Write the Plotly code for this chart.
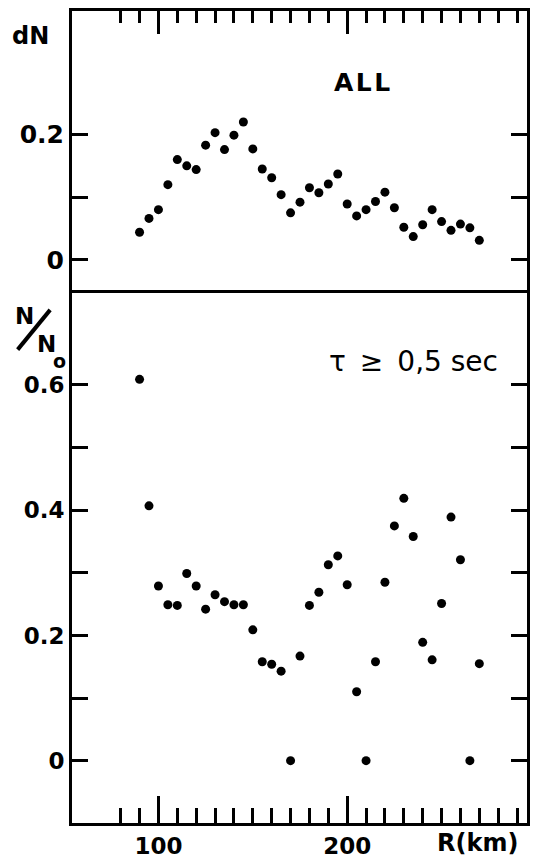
import plotly.graph_objects as go

# ---------------- data ----------------
R_km = [90, 95, 100, 105, 110, 115, 120, 125, 130, 135, 140, 145, 150,
        155, 160, 165, 170, 175, 180, 185, 190, 195, 200, 205, 210, 215,
        220, 225, 230, 235, 240, 245, 250, 255, 260, 265, 270]

dN_all = [0.044, 0.066, 0.080, 0.120, 0.160, 0.150, 0.144, 0.183, 0.203,
          0.176, 0.199, 0.220, 0.177, 0.145, 0.131, 0.104, 0.075, 0.092,
          0.115, 0.107, 0.121, 0.137, 0.089, 0.070, 0.080, 0.093, 0.108,
          0.083, 0.052, 0.037, 0.056, 0.080, 0.061, 0.047, 0.057, 0.051,
          0.031]

N_No_tau = [0.609, 0.407, 0.279, 0.249, 0.248, 0.299, 0.279, 0.242, 0.265,
            0.254, 0.249, 0.249, 0.209, 0.158, 0.154, 0.143, 0.000, 0.167,
            0.248, 0.269, 0.313, 0.327, 0.281, 0.110, 0.000, 0.158, 0.285,
            0.375, 0.419, 0.358, 0.189, 0.161, 0.251, 0.389, 0.321, 0.000,
            0.155]

x_major = [100, 200]
x_major_text = ["100", "200"]
x_minor = [80, 90, 110, 120, 130, 140, 150, 160, 170, 180, 190,
           210, 220, 230, 240, 250, 260, 270, 280, 290]

top_ticks = [0, 0.1, 0.2]
top_ticktext = ["0", "", "0.2"]
bot_ticks = [0, 0.1, 0.2, 0.3, 0.4, 0.5, 0.6]
bot_ticktext = ["0", "", "0.2", "", "0.4", "", "0.6"]

# ---------------- layout geometry ----------------
W, H = 534, 863
L, Rm, T, B = 72, 4, 11, 35
PW, PH = W - L - Rm, H - T - B
split = (H - B - 294.5) / PH


def px(xp):
    return (xp - L) / PW


def py(yp):
    return (H - B - yp) / PH


BOLD = dict(family="DejaVu Sans", size=23, color="black", weight="bold")

fig = go.Figure()
fig.add_trace(go.Scatter(x=R_km, y=dN_all, mode="markers",
                         marker=dict(color="black", size=9),
                         xaxis="x2", yaxis="y2", showlegend=False))
fig.add_trace(go.Scatter(x=R_km, y=N_No_tau, mode="markers",
                         marker=dict(color="black", size=9),
                         xaxis="x", yaxis="y", showlegend=False))

xrange = [54.21, 295.26]
common_x = dict(range=xrange, showgrid=False, zeroline=False,
                showline=True, linecolor="black", linewidth=3,
                tickmode="array", tickvals=x_major, ticks="inside",
                tickcolor="black", tickwidth=3)

fig.update_layout(
    width=W, height=H,
    margin=dict(l=L, r=Rm, t=T, b=B, pad=0),
    paper_bgcolor="white", plot_bgcolor="white",
    showlegend=False,
    xaxis=dict(**common_x, anchor="y", domain=[0, 1], side="bottom",
               mirror=True, ticktext=x_major_text, ticklen=27,
               tickfont=BOLD,
               minor=dict(tickmode="array", tickvals=x_minor, ticks="inside",
                          ticklen=15, tickwidth=2.5, tickcolor="black")),
    xaxis2=dict(**common_x, anchor="y2", domain=[0, 1], side="top",
                mirror=False, showticklabels=False, ticklen=23,
                minor=dict(tickmode="array", tickvals=x_minor, ticks="inside",
                           ticklen=12, tickwidth=2.5, tickcolor="black")),
    yaxis=dict(domain=[0, split], anchor="x", range=[-0.09952, 0.7473],
               showgrid=False, zeroline=False, showline=True,
               linecolor="black", linewidth=3, mirror="ticks",
               tickmode="array", tickvals=bot_ticks, ticktext=bot_ticktext,
               ticks="inside", ticklen=16, tickwidth=3, tickcolor="black",
               tickfont=BOLD),
    yaxis2=dict(domain=[split, 1], anchor="x2", range=[-0.0527, 0.3973],
                showgrid=False, zeroline=False, showline=True,
                linecolor="black", linewidth=3, mirror="ticks",
                tickmode="array", tickvals=top_ticks, ticktext=top_ticktext,
                ticks="inside", ticklen=16, tickwidth=3, tickcolor="black",
                tickfont=dict(BOLD, size=25)),
)


def ann(text, xp, yp, font, xanchor="center", yanchor="middle"):
    fig.add_annotation(text=text, x=px(xp), y=py(yp), xref="paper",
                       yref="paper", showarrow=False, xanchor=xanchor,
                       yanchor=yanchor, font=font)


ann("dN", 30.5, 36.5, dict(BOLD, size=24))
ann("A\u200aL\u200aL", 363.6, 83.3, dict(BOLD, size=25))
ann("\u03c4\u2002\u2265\u20020,5 sec", 415.5, 364,
    dict(family="DejaVu Sans", size=28, color="black"))
ann("R(km)", 480, 848, dict(BOLD, size=24))
# N / N_o label
ann("N", 24.2, 317.5, dict(BOLD, size=23))
ann("N", 46.0, 346.5, dict(BOLD, size=23))
ann("o", 59.5, 363, dict(BOLD, size=19))
fig.add_shape(type="line", xref="paper", yref="paper",
              x0=px(17.3), y0=py(351.7), x1=px(50), y1=py(311.7),
              line=dict(color="black", width=4))

fig.write_html("out.html")
